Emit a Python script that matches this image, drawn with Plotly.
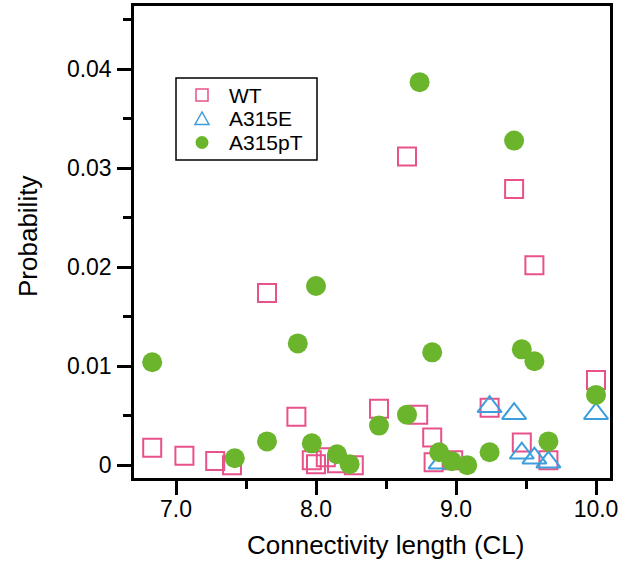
import plotly.graph_objects as go

# Connectivity length (CL) and probability for each variant
wt_cl = [6.83, 7.06, 7.28, 7.40, 7.65, 7.86, 7.97, 8.00, 8.07, 8.15, 8.27, 8.45,
         8.65, 8.73, 8.83, 8.84, 8.98, 9.24, 9.415, 9.47, 9.56, 9.66, 10.0]
wt_prob = [0.00175, 0.00094, 0.00043, 0.0000, 0.0174, 0.0049, 0.0005, 0.0001, 0.0008,
           0.0002, 0.0000, 0.0057, 0.0312, 0.0051, 0.0028, 0.0003, 0.0005, 0.0058,
           0.0279, 0.0023, 0.0202, 0.0005, 0.0086]

a315e_cl = [8.89, 9.24, 9.415, 9.47, 9.56, 9.66, 10.0]
a315e_prob = [0.0002, 0.0059, 0.0052, 0.0012, 0.0007, 0.0003, 0.0052]

a315pt_cl = [6.83, 7.42, 7.65, 7.87, 7.97, 8.00, 8.15, 8.24, 8.45, 8.65, 8.74, 8.83,
             8.88, 8.97, 9.08, 9.24, 9.415, 9.47, 9.56, 9.66, 10.0]
a315pt_prob = [0.0104, 0.0007, 0.0024, 0.0123, 0.0022, 0.0181, 0.0011, 0.0001, 0.0040,
               0.0051, 0.0387, 0.0114, 0.0013, 0.0004, 0.0000, 0.0013, 0.0328, 0.0117,
               0.0105, 0.0024, 0.0071]

series_names = ["WT", "A315E", "A315pT"]

x_ticks = [7, 8, 9, 10]
x_tick_text = ["7.0", "8.0", "9.0", "10.0"]
y_ticks = [0, 0.01, 0.02, 0.03, 0.04]
y_tick_text = ["0", "0.01", "0.02", "0.03", "0.04"]

PINK = "#E8528A"
BLUE = "#3C9FDC"
GREEN = "#6BB52D"
FONT = "Liberation Sans, Arial, sans-serif"

W, H = 623, 567
M_L, M_R, M_T, M_B = 134, 13, 6, 89
PW, PH = W - M_L - M_R, H - M_T - M_B


def px(xpix):
    """Horizontal pixel position -> paper fraction."""
    return (xpix - M_L) / PW


def py(ypix):
    """Vertical pixel position (from top) -> paper fraction."""
    return (H - M_B - ypix) / PH


fig = go.Figure()
fig.add_trace(go.Scatter(
    x=wt_cl, y=wt_prob, mode="markers", name=series_names[0],
    marker=dict(symbol="square-open", size=18, color=PINK, line=dict(width=2, color=PINK)),
))
fig.add_trace(go.Scatter(
    x=a315e_cl, y=a315e_prob, mode="markers", name=series_names[1],
    marker=dict(symbol="triangle-up-open", size=21, color=BLUE, line=dict(width=2, color=BLUE)),
))
fig.add_trace(go.Scatter(
    x=a315pt_cl, y=a315pt_prob, mode="markers", name=series_names[2],
    marker=dict(symbol="circle", size=20, color=GREEN, line=dict(width=0)),
))

axis_common = dict(
    showline=True, linecolor="black", linewidth=2.5, mirror=True,
    ticks="outside", ticklen=14, tickwidth=2.5, tickcolor="black",
    showgrid=False, zeroline=False, automargin=False,
    tickfont=dict(family=FONT, size=23, color="black"),
)

# Legend box with symbol keys and labels
shapes = [
    dict(type="rect", xref="paper", yref="paper",
         x0=px(176), x1=px(317), y0=py(78), y1=py(160),
         line=dict(color="black", width=1.5), fillcolor="white", layer="above"),
]
row_y = [95, 118.5, 142.5]
sym_x = 202
s = 6
shapes.append(dict(type="rect", xref="paper", yref="paper",
                   x0=px(sym_x - s), x1=px(sym_x + s), y0=py(row_y[0] + s), y1=py(row_y[0] - s),
                   line=dict(color=PINK, width=1.5), layer="above"))
ty = row_y[1]
shapes.append(dict(type="path", xref="paper", yref="paper",
                   path=(f"M {px(sym_x - 7)} {py(ty + 6)} L {px(sym_x + 7)} {py(ty + 6)} "
                         f"L {px(sym_x)} {py(ty - 6.5)} Z"),
                   line=dict(color=BLUE, width=1.5), layer="above"))
shapes.append(dict(type="circle", xref="paper", yref="paper",
                   x0=px(sym_x - 6.5), x1=px(sym_x + 6.5), y0=py(row_y[2] + 6.5), y1=py(row_y[2] - 6.5),
                   line=dict(color=GREEN, width=0), fillcolor=GREEN, layer="above"))

annotations = [
    dict(text=name, xref="paper", yref="paper", x=px(227), y=py(yy),
         xanchor="left", yanchor="middle", showarrow=False,
         font=dict(family=FONT, size=21, color="black"))
    for name, yy in zip(series_names, row_y)
]
annotations += [
    dict(text="Connectivity length (CL)", xref="paper", yref="paper",
         x=px(385), y=py(545), xanchor="center", yanchor="middle",
         showarrow=False, font=dict(family=FONT, size=26, color="black")),
    dict(text="Probability", xref="paper", yref="paper",
         x=px(28), y=py(237), xanchor="center", yanchor="middle",
         textangle=-90, showarrow=False, font=dict(family=FONT, size=26, color="black")),
]

fig.update_layout(
    width=W, height=H,
    margin=dict(l=M_L, r=M_R, t=M_T, b=M_B),
    paper_bgcolor="white", plot_bgcolor="white",
    font=dict(family=FONT, color="black"),
    showlegend=False,
    xaxis=dict(
        range=[6.70, 10.10], tickvals=x_ticks, ticktext=x_tick_text,
        minor=dict(ticks="outside", ticklen=8, tickwidth=2.5, tickcolor="black", dtick=0.5, tick0=0),
        ticklabelstandoff=-5,
        **axis_common,
    ),
    yaxis=dict(
        range=[-0.0013, 0.0464], tickvals=y_ticks, ticktext=y_tick_text,
        minor=dict(ticks="outside", ticklen=8, tickwidth=2.5, tickcolor="black", dtick=0.005, tick0=0),
        ticklabelstandoff=1,
        **axis_common,
    ),
    shapes=shapes,
    annotations=annotations,
)

fig.write_html("out.html")
